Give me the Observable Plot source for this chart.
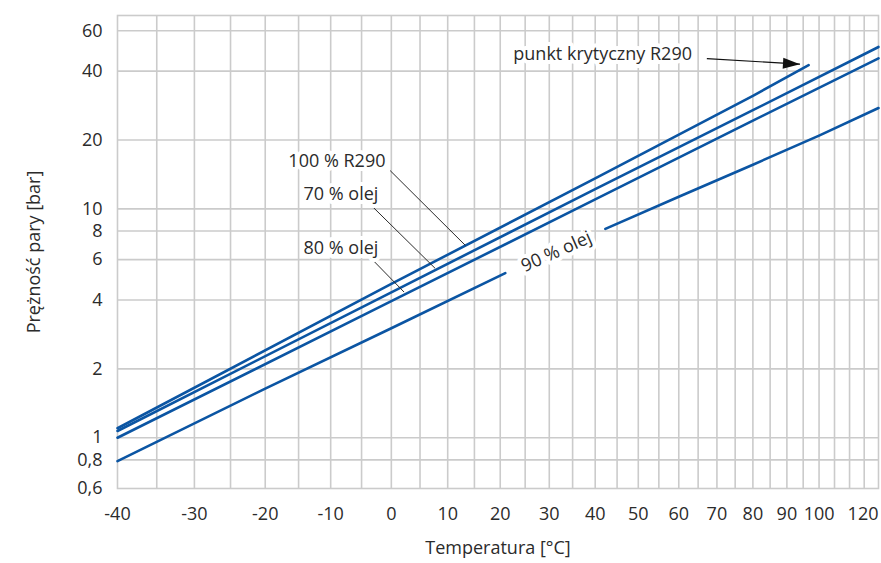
<!DOCTYPE html>
<html><head><meta charset="utf-8">
<script src="https://cdn.jsdelivr.net/npm/d3@7"></script>
<script src="https://cdn.jsdelivr.net/npm/@observablehq/plot@0.6"></script>
<style>
body{margin:0;background:#fff;}
#chart svg{font-family:"Open Sans",sans-serif;}
</style>
</head><body><div id="chart"></div>
<script>
// ---- data ----
const temps100 = [-40, 0, 40, 80, 96.7];
const press100 = [1.1, 4.7, 13.6, 31.2, 42.5];
const temps70 = [-40, 0, 40, 80, 120];
const press70 = [1.07, 4.32, 12.2, 27.0, 51.0];
const temps80 = [-40, 0, 40, 80, 120];
const press80 = [1.0, 3.95, 11.0, 24.3, 45.5];
const temps90a = [-40, -20, 0, 21];
const press90a = [0.79, 1.64, 3.01, 5.24];
const temps90b = [42.3, 60, 80, 100, 120];
const press90b = [8.18, 11.3, 15.6, 20.9, 27.6];

const xTickLabels = [-40, -30, -20, -10, 0, 10, 20, 30, 40, 50, 60, 70, 80, 90, 100];
const xLastTick = [120];
const xGrid = [-35,-30,-25,-20,-15,-10,-5,0,5,10,15,20,25,30,35,40,45,50,55,60,65,70,75,80,85,90,95,100,105,110,115];
const yTicks = [0.6, 0.8, 1, 2, 4, 6, 8, 10, 20, 40, 60];
const yGrid = [0.8, 1, 2, 4, 6, 8, 10, 20, 40, 60];

const labelText = ["100 % R290", "70 % olej", "80 % olej"];
const labelT = [-1.0, -2.2, -2.2];
const labelP = [16.1, 11.6, 6.76];
const leaderT1 = [-0.2, -3.3, -3.5];
const leaderP1 = [14.7, 10.3, 6.11];
const leaderT2 = [13.3, 7.7, 2.2];
const leaderP2 = [6.92, 5.5, 4.33];

const label90 = "90 % olej";
const label90T = 31.5;
const label90P = 6.5;

const critText = "punkt krytyczny R290";
const critTextT = 22.6, critTextP = 47.4;
const arrowT1 = 67.3, arrowP1 = 45.4;
const arrowT2 = 94.0, arrowP2 = 42.9;

// ---- helpers ----
const u = t => -1000 / (t + 273.15);   // reciprocal absolute temperature axis
const fmtT = v => String(Math.round(1000 / -v - 273.15));
const fmtP = d => String(d).replace(".", ",");
const blue = "#0b55a3";
const grey = "#cbcbcb";
const ink = "#2b2b2b";
const fs = 18;

function series(name, ts, ps) { return ts.map((t, i) => ({name, T: t, P: ps[i]})); }
const lineData = [
  ...series("100", temps100, press100),
  ...series("70", temps70, press70),
  ...series("80", temps80, press80),
  ...series("90a", temps90a, press90a),
  ...series("90b", temps90b, press90b)
];
const labels = labelText.map((s, i) => ({s, T: labelT[i], P: labelP[i]}));
const leaders = labelText.map((s, i) => ({T1: leaderT1[i], P1: leaderP1[i], T2: leaderT2[i], P2: leaderP2[i]}));

const arrowHead = {
  draw(ctx) { ctx.moveTo(0, 0); ctx.lineTo(-17, -5.5); ctx.lineTo(-17, 5.5); ctx.closePath(); }
};

const chart = Plot.plot({
  width: 881,
  height: 563,
  marginLeft: 117,
  marginRight: 3,
  marginTop: 15,
  marginBottom: 75,
  style: {fontFamily: "Open Sans, sans-serif", fontSize: fs + "px", color: ink, background: "#fff"},
  x: {type: "linear", domain: [u(-40), u(120)], axis: null},
  y: {type: "log", domain: [0.6, 70], axis: null},
  marks: [
    Plot.ruleX(xGrid, {x: d => u(d), stroke: grey, strokeWidth: 1.6}),
    Plot.ruleY(yGrid, {y: d => d, stroke: grey, strokeWidth: 1.6}),
    Plot.frame({stroke: grey, strokeWidth: 1.6}),
    Plot.axisX({ticks: xTickLabels.map(u), tickSize: 0, tickPadding: 19, tickFormat: fmtT, fontSize: fs, fill: ink,
      label: "Temperatura [°C]", labelAnchor: "center", labelOffset: 65, labelArrow: "none"}),
    Plot.axisX({ticks: xLastTick.map(u), tickSize: 0, tickPadding: 19, tickFormat: fmtT, fontSize: fs, fill: ink, textAnchor: "end", label: null}),
    Plot.text(yTicks, {y: d => d, frameAnchor: "left", dx: -15, textAnchor: "end", text: fmtP, fontSize: fs, fill: ink}),
    Plot.axisY({ticks: [], tickSize: 0, label: "Prężność pary [bar]", labelAnchor: "center", labelOffset: 90, labelArrow: "none", fontSize: fs, fill: ink}),
    Plot.line(lineData, {x: d => u(d.T), y: "P", z: "name", stroke: blue, strokeWidth: 2.6}),
    Plot.link(leaders, {x1: d => u(d.T1), y1: "P1", x2: d => u(d.T2), y2: "P2", stroke: ink, strokeWidth: 1}),
    Plot.text(labels, {x: d => u(d.T), y: "P", text: "s", textAnchor: "end", fill: ink, fontSize: fs,
      stroke: "white", strokeWidth: 8, paintOrder: "stroke"}),
    Plot.text([label90], {x: () => u(label90T), y: () => label90P, text: d => d, rotate: -24, fill: ink, fontSize: fs,
      stroke: "white", strokeWidth: 8, paintOrder: "stroke"}),
    Plot.text([critText], {x: () => u(critTextT), y: () => critTextP, text: d => d, textAnchor: "start", fill: ink, fontSize: fs,
      stroke: "white", strokeWidth: 8, paintOrder: "stroke"}),
    Plot.link([0], {x1: () => u(arrowT1), y1: () => arrowP1, x2: () => u(arrowT2), y2: () => arrowP2, stroke: "#111", strokeWidth: 1.2}),
    Plot.dot([0], {x: () => u(arrowT2), y: () => arrowP2, symbol: arrowHead, fill: "#111", stroke: "none", rotate: 3.4})
  ]
});
document.getElementById("chart").appendChild(chart);
</script>
</body></html>
